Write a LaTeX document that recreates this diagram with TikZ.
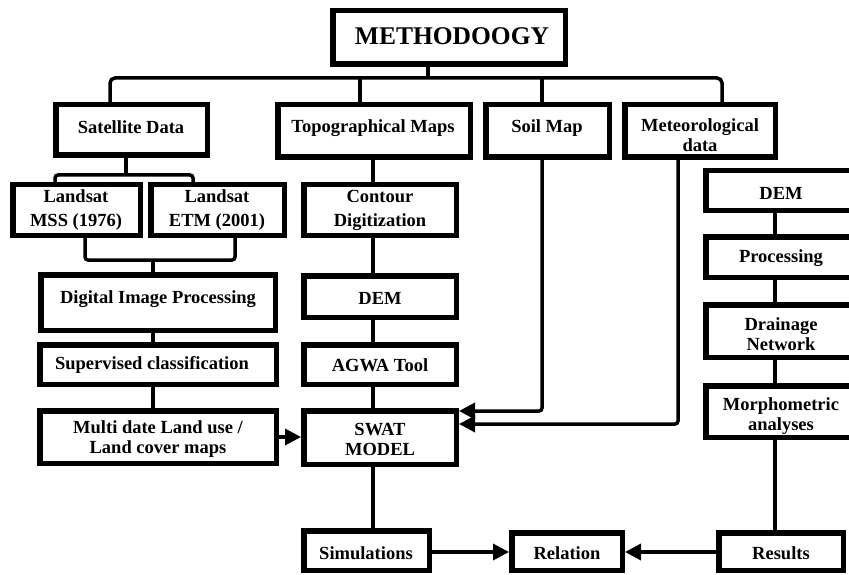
\documentclass[tikz,border=0pt]{standalone}
\usepackage{fontspec}
\setmainfont{Liberation Serif}
\usetikzlibrary{arrows.meta,calc}
\newcommand\mybox[7]{%
 \pgfmathsetmacro\mybxc{(#2+#4)/2}%
 \pgfmathsetmacro\mybyc{(#3+#5)/2}%
 \pgfmathsetmacro\mybw{#4-#2-5.5}%
 \pgfmathsetmacro\mybh{#5-#3-5.5}%
 \node[box,minimum width=\mybw pt,minimum height=\mybh pt] (#1) at (\mybxc,\mybyc) {};%
 \node[txt] (#1t) at (#6) {#7};}
\begin{document}
\begin{tikzpicture}[x=1pt,y=-1pt,
 box/.style={draw,line width=5.5pt,inner sep=0pt,rectangle},
 txt/.style={font=\bfseries\fontsize{18.5}{20}\selectfont,align=center,inner sep=0pt},
 conn/.style={line width=3.5pt},
 arr/.style={conn,-{Triangle[length=16pt,width=16pt]}}]
\fill[white] (0,0) rectangle (849,575);
\useasboundingbox (0,0) rectangle (849,575);
\clip (0,0) rectangle (849,575);
\mybox{meth}{330}{8}{568}{67}{452,36}{\fontsize{25.5}{28}\selectfont METHODOOGY}
\mybox{sat}{53}{102}{210}{158}{131,127}{Satellite Data}
\mybox{topo}{275}{102}{473}{160}{373,128}{Topographical Maps}
\mybox{soil}{483}{102}{612}{160}{547,128}{Soil Map}
\mybox{met}{622}{102}{778}{160}{700,135}{Meteorological\\data}
\mybox{mss}{10}{182}{143}{238}{76,210}{Landsat\\[4pt]MSS (1976)}
\mybox{etm}{148}{182}{287}{238}{217,210}{Landsat\\[4pt]ETM (2001)}
\mybox{cont}{301}{182}{459}{238}{380,210}{Contour\\[4pt]Digitization}
\mybox{dip}{38}{272}{278}{333}{158,299}{Digital Image Processing}
\mybox{dem}{301}{273}{459}{320}{380,298}{DEM}
\mybox{sup}{37}{342}{279}{387}{152,365}{Supervised classification}
\mybox{agwa}{301}{342}{459}{387}{380,365}{AGWA Tool}
\mybox{lulc}{37}{408}{279}{466}{158,439}{Multi date Land use /\\Land cover maps}
\mybox{swat}{301}{408}{459}{467}{380,439}{SWAT\\MODEL}
\mybox{sim}{301}{528}{432}{573}{366,553}{Simulations}
\mybox{rel}{509}{530}{625}{573}{567,553}{Relation}
\mybox{res}{716}{530}{846}{573}{781,553}{Results}
\mybox{rdem}{703}{168}{859}{213}{781,193}{DEM}
\mybox{proc}{703}{234}{859}{280}{781,258}{Processing}
\mybox{drain}{703}{302}{859}{360}{781,334}{Drainage\\Network}
\mybox{morph}{703}{383}{859}{440}{781,416}{Morphometric\\analyses}
% top tree
\coordinate (hl) at (110,78);
\coordinate (hr) at (722,78);
\draw[conn] (428,0 |- meth.south) -- (428,78);
\draw[conn,rounded corners=5pt] (110,0 |- sat.north) -- (hl) -- (hr) -- (722,0 |- met.north);
\draw[conn] (360,78) -- (360,0 |- topo.north);
\draw[conn] (542,78) -- (542,0 |- soil.north);
% satellite branch
\draw[conn] (126,0 |- sat.south) -- (126,175);
\draw[conn,rounded corners=3pt] (55,0 |- mss.north) -- (55,175) -- (193,175) -- (193,0 |- etm.north);
\draw[conn,rounded corners=3pt] (85,0 |- mss.south) -- (85,260) -- (235,260) -- (235,0 |- etm.south);
\draw[conn] (153,260) -- (153,0 |- dip.north);
\draw[conn] (153,0 |- dip.south) -- (153,0 |- sup.north);
\draw[conn] (153,0 |- sup.south) -- (153,0 |- lulc.north);
\draw[arr] (lulc.east) -- (swat.west |- lulc.east);
% topo column
\foreach \a/\b in {topo/cont,cont/dem,dem/agwa,agwa/swat,swat/sim}
  \draw[conn] (373,0 |- \a.south) -- (373,0 |- \b.north);
% soil and met to SWAT
\draw[arr,rounded corners=3pt] (542,0 |- soil.south) -- (542,411) -- (swat.east |- 0,411);
\draw[arr,rounded corners=3pt] (678,0 |- met.south) -- (678,424) -- (swat.east |- 0,424);
% right column
\foreach \a/\b in {rdem/proc,proc/drain,drain/morph,morph/res}
  \draw[conn] (775,0 |- \a.south) -- (775,0 |- \b.north);
% bottom
\draw[arr] (sim.east |- 0,552) -- (rel.west |- 0,552);
\draw[arr] (res.west |- 0,552) -- (rel.east |- 0,552);
\end{tikzpicture}
\end{document}
